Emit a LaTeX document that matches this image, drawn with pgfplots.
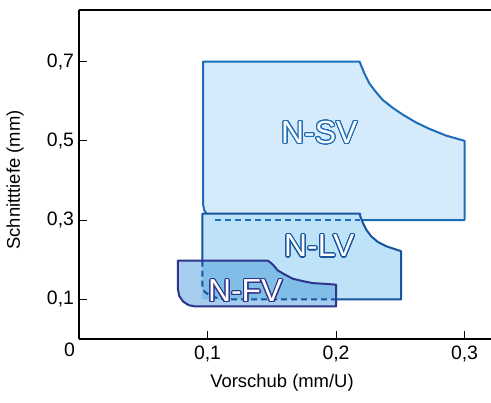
\documentclass[border=0pt]{standalone}
\usepackage{pgfplots}
\pgfplotsset{compat=1.18}
\usepackage{fontspec}
\setmainfont{Liberation Sans}
\usepackage{contour}
\contourlength{1.1pt}
\contournumber{24}

\definecolor{svfill}{RGB}{213,234,250}
\definecolor{svline}{RGB}{27,110,183}
\definecolor{lvfill}{RGB}{190,226,248}
\definecolor{lvline}{RGB}{22,84,160}
\definecolor{fvfill}{RGB}{166,204,238}
\definecolor{fvover}{RGB}{128,190,232}
\definecolor{fvline}{RGB}{46,52,140}

\begin{document}
\begin{tikzpicture}
\begin{axis}[
width=412bp,
height=329bp,
scale only axis,
xmin=0, xmax=0.3206,
ymin=0, ymax=0.83,
axis x line=box,
axis y line=left,
axis line style={line width=2bp, -},
xtick={0.1,0.2,0.3},
xticklabels={{0,1},{0,2},{0,3}},
ytick={0.1,0.3,0.5,0.7},
yticklabels={{0,1},{0,3},{0,5},{0,7}},
xtick pos=left,
ytick pos=left,
tick align=inside,
major tick length=8bp,
tick style={black, line width=1bp},
/pgf/number format/assume math mode=true,
tick label style={font=\fontsize{19.5}{22}\selectfont},
xticklabel style={yshift=-3bp},
yticklabel style={xshift=-1.5bp},
label style={font=\fontsize{18.5}{22}\selectfont},
xlabel={Vorschub (mm/U)},
ylabel={Schnitttiefe (mm)},
xlabel style={at={(axis description cs:0.4927,-0.134)}, anchor=center},
ylabel style={at={(axis description cs:-0.155,0.483)}, anchor=center},
clip=false,
]
% N-SV
\addplot[fill=svfill, draw=svline, line width=2bp, line join=round] coordinates {
(0.0965,0.70) (0.2183,0.70) (0.2222,0.669) (0.2261,0.644) (0.2313,0.622)
(0.2364,0.603) (0.2442,0.583) (0.2520,0.566) (0.2624,0.546) (0.2728,0.530)
(0.2858,0.513) (0.300,0.500) (0.300,0.300) (0.109,0.300) (0.1044,0.3030)
(0.1003,0.3117) (0.0975,0.3247) (0.0965,0.34)
} -- cycle;
% N-LV
\addplot[fill=lvfill, draw=lvline, line width=2bp, line join=round] coordinates {
(0.096,0.316) (0.2188,0.316) (0.2188,0.310) (0.2209,0.293) (0.2235,0.276)
(0.2274,0.259) (0.2325,0.245) (0.2391,0.234) (0.2455,0.227) (0.2507,0.2215)
(0.2507,0.100) (0.096,0.100)
} -- cycle;
% hidden edge of N-SV
\addplot[draw=svline, line width=2bp, dash pattern=on 6bp off 4bp] coordinates {
(0.106,0.300) (0.2188,0.300)
};
% N-FV
\addplot[fill=fvfill, draw=none] coordinates {
(0.077,0.198) (0.1469,0.198) (0.1508,0.188) (0.1547,0.173) (0.1599,0.163)
(0.1664,0.152) (0.1742,0.146) (0.1819,0.141) (0.1924,0.139) (0.2001,0.137)
(0.2001,0.082) (0.0905,0.082) (0.0853,0.0853) (0.0810,0.0946) (0.0780,0.1085)
(0.077,0.125)
} -- cycle;
% N-FV over N-LV
\addplot[fill=fvover, draw=none] coordinates {
(0.096,0.198) (0.1469,0.198) (0.1508,0.188) (0.1547,0.173) (0.1599,0.163)
(0.1664,0.152) (0.1742,0.146) (0.1819,0.141) (0.1924,0.139) (0.2001,0.137)
(0.2001,0.100) (0.096,0.100)
} -- cycle;
% hidden edge of N-LV
\addplot[draw=lvline, line width=2bp, dash pattern=on 6bp off 4bp] coordinates {
(0.096,0.198) (0.096,0.135) (0.0975,0.120) (0.102,0.109) (0.109,0.102)
(0.118,0.100) (0.2001,0.100)
};
\addplot[draw=fvline, line width=2bp, line join=round] coordinates {
(0.077,0.198) (0.1469,0.198) (0.1508,0.188) (0.1547,0.173) (0.1599,0.163)
(0.1664,0.152) (0.1742,0.146) (0.1819,0.141) (0.1924,0.139) (0.2001,0.137)
(0.2001,0.082) (0.0905,0.082) (0.0853,0.0853) (0.0810,0.0946) (0.0780,0.1085)
(0.077,0.125)
} -- cycle;

\node[font=\fontsize{32}{36}\selectfont, text=white] at (axis cs:0.187,0.520) {\contour{svline}{N-SV}};
\node[font=\fontsize{32}{36}\selectfont, text=white] at (axis cs:0.187,0.2334) {\contour{lvline}{N-LV}};
\node[font=\fontsize{32}{36}\selectfont, text=white] at (axis cs:0.1294,0.120) {\contour{fvline}{N-FV}};
\node[font=\fontsize{19.5}{22}\selectfont] at (axis cs:0,0) [xshift=-9.5bp, yshift=-11bp] {0};
\end{axis}
\pgfresetboundingbox
\path (-79bp,-64bp) rectangle (412bp,339bp);
\end{tikzpicture}
\end{document}
